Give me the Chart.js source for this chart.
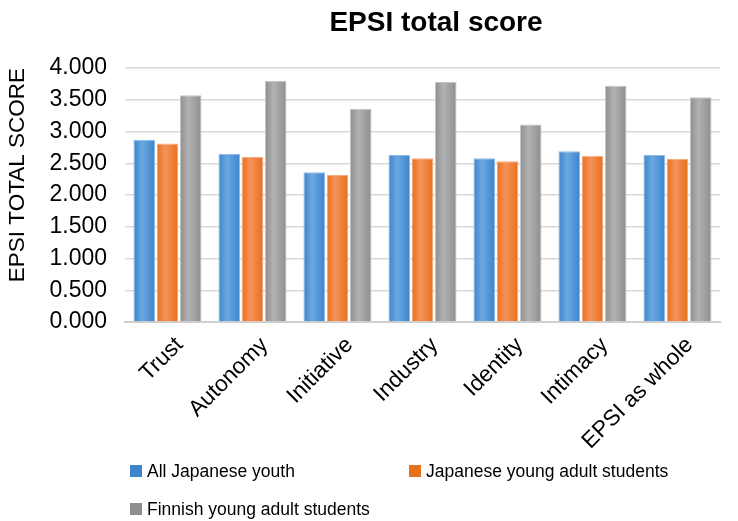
<!DOCTYPE html>
<html>
<head>
<meta charset="utf-8">
<script src="https://cdn.jsdelivr.net/npm/chart.js@4/dist/chart.umd.min.js"></script>
<style>
html,body{margin:0;padding:0;background:#fff;}
#wrap{position:relative;width:738px;height:521px;}
</style>
</head>
<body>
<div id="wrap"><canvas id="c" width="738" height="521"></canvas></div>
<script>
const chartTitle = 'EPSI total score';
const yAxisTitle = 'EPSI TOTAL SCORE';
const categories = ['Trust', 'Autonomy', 'Initiative', 'Industry', 'Identity', 'Intimacy', 'EPSI as whole'];
const seriesNames = ['All Japanese youth', 'Japanese young adult students', 'Finnish young adult students'];
const allJapaneseYouth = [2.87, 2.65, 2.36, 2.63, 2.58, 2.69, 2.63];
const japaneseStudents = [2.81, 2.60, 2.32, 2.58, 2.53, 2.62, 2.57];
const finnishStudents = [3.57, 3.80, 3.36, 3.78, 3.11, 3.72, 3.54];

const FONT = '"Liberation Sans", Arial, sans-serif';
const CAT_PCT = 0.82, BAR_PCT = 0.93;
const palette = [
  {edge: '#3d84cc', mid: '#6aa8e2', border: '#8fbde8'},
  {edge: '#e86f1c', mid: '#f5935a', border: '#f6ab7c'},
  {edge: '#8e8e8e', mid: '#b2b2b2', border: '#c4c4c4'}
];

function gradFill(ds) {
  return function(ctx) {
    const chart = ctx.chart;
    const xs = chart.scales && chart.scales.x;
    if (!xs || ctx.type !== 'data') return palette[ds].edge;
    const n = chart.data.labels.length;
    const cw = xs.width / n;
    const group = cw * CAT_PCT;
    const slot = group / 3;
    const cx = xs.getPixelForValue(ctx.dataIndex) - group / 2 + slot * (ds + 0.5);
    const w = slot * BAR_PCT;
    if (!isFinite(cx) || !isFinite(w) || w <= 0) return palette[ds].edge;
    const g = chart.ctx.createLinearGradient(cx - w / 2, 0, cx + w / 2, 0);
    g.addColorStop(0, palette[ds].edge);
    g.addColorStop(0.4, palette[ds].mid);
    g.addColorStop(1, palette[ds].edge);
    return g;
  };
}

const overlay = {
  id: 'overlay',
  afterDraw(chart) {
    const c = chart.ctx;
    c.save();
    c.fillStyle = '#000';
    c.font = 'bold 28px ' + FONT;
    c.textAlign = 'center';
    c.textBaseline = 'middle';
    c.fillText(chartTitle, 436, 23);
    c.font = '17.5px ' + FONT;
    c.textAlign = 'left';
    const pos = [[130, 471], [409, 471], [130, 509]];
    chart.data.datasets.forEach((d, i) => {
      const [x, y] = pos[i];
      c.fillStyle = palette[i].edge;
      c.fillRect(x, y - 6, 12, 12);
      c.fillStyle = '#000';
      c.fillText(d.label, x + 17, y + 1);
    });
    c.restore();
  }
};

const datasets = [allJapaneseYouth, japaneseStudents, finnishStudents].map((vals, i) => ({
  label: seriesNames[i],
  data: vals,
  backgroundColor: gradFill(i),
  borderColor: palette[i].border,
  borderWidth: 1,
  categoryPercentage: CAT_PCT,
  barPercentage: BAR_PCT
}));

new Chart(document.getElementById('c'), {
  type: 'bar',
  data: {labels: categories, datasets},
  plugins: [overlay],
  options: {
    responsive: false,
    animation: false,
    layout: {padding: {top: 68, bottom: 69, left: 0, right: 18}},
    plugins: {legend: {display: false}, title: {display: false}, tooltip: {enabled: false}},
    scales: {
      x: {
        grid: {display: false},
        border: {display: true, color: '#cfcfcf', width: 2},
        ticks: {color: '#000', font: {family: FONT, size: 22.5}, maxRotation: 45, minRotation: 45, autoSkip: false, padding: 2, labelOffset: 12},
        afterFit(s) { s.height = 130; }
      },
      y: {
        min: 0, max: 4,
        grid: {color: '#d9d9d9', lineWidth: 1.5, drawTicks: false},
        border: {display: false},
        ticks: {stepSize: 0.5, color: '#000', font: {family: FONT, size: 23}, padding: 18,
          callback: v => Number(v).toFixed(3)},
        title: {display: true, text: yAxisTitle, align: 'end', color: '#000', font: {family: FONT, size: 22.5}, padding: {top: 4, bottom: 0}},
        afterFit(s) { s.width = 125; }
      }
    }
  }
});
</script>
</body>
</html>
